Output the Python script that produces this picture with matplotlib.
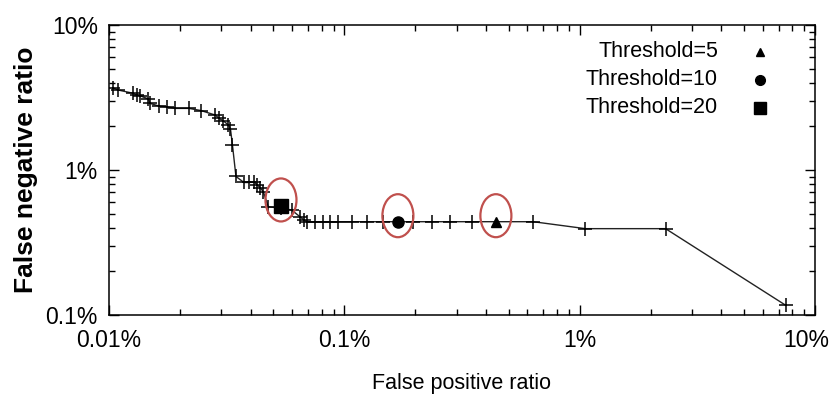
#!/usr/bin/env python3
"""False positive vs false negative ratio curve with threshold points -> out.png"""
import matplotlib
matplotlib.use("Agg")
import matplotlib.pyplot as plt
from matplotlib.patches import Ellipse
from matplotlib.ticker import FuncFormatter
from matplotlib.transforms import ScaledTranslation

plt.rcParams["font.family"] = ["Liberation Sans", "DejaVu Sans"]

# curve (values in percent)
fp_ratio = [0.0104, 0.01095, 0.01268, 0.01311, 0.01354, 0.01469, 0.01494, 0.01631,
            0.01758, 0.01907, 0.02186, 0.0246, 0.02834, 0.02934, 0.03065, 0.03218,
            0.03282, 0.03346, 0.03463, 0.03746, 0.03933, 0.0413, 0.04274, 0.04401,
            0.04532, 0.04749, 0.05379, 0.05972, 0.06477, 0.06736, 0.06916, 0.0750,
            0.0813, 0.0869, 0.0942, 0.1074, 0.1244, 0.1463, 0.1962, 0.2349, 0.2810,
            0.3474, 0.6344, 1.058, 2.317, 7.52]
fn_ratio = [3.68, 3.56, 3.38, 3.29, 3.25, 3.09, 2.88, 2.76,
            2.73, 2.66, 2.66, 2.57, 2.39, 2.27, 2.18, 2.04,
            1.92, 1.49, 0.902, 0.820, 0.820, 0.826, 0.788, 0.751,
            0.705, 0.558, 0.545, 0.530, 0.476, 0.452, 0.440, 0.440,
            0.440, 0.440, 0.440, 0.440, 0.440, 0.440, 0.440, 0.440, 0.440,
            0.440, 0.440, 0.394, 0.394, 0.1165]

# threshold operating points
thr_labels = ["Threshold=5", "Threshold=10", "Threshold=20"]
thr_markers = ["^", "o", "s"]
thr_fp = [0.4406, 0.1689, 0.0538]
thr_fn = [0.440, 0.440, 0.565]

x_ticks = [0.01, 0.1, 1, 10]
y_ticks = [0.1, 1, 10]

RED = "#C0504D"

fig = plt.figure(figsize=(8.38, 4.01), dpi=100)
ax = fig.add_axes([109 / 838, 86 / 401, 706 / 838, 290 / 401])

ax.plot(fp_ratio, fn_ratio, color="#222222", lw=1.0, marker="+", ms=9.5, mew=1.1, mec="black")

sizes = {"^": 7, "o": 8, "s": 10}
for fp, fn, m in zip(thr_fp, thr_fn, thr_markers):
    ax.plot([fp], [fn], marker=m, ms=sizes[m], color="black", ls="none", zorder=4)
    trans = fig.dpi_scale_trans + ScaledTranslation(fp, fn, ax.transData)
    ax.add_patch(Ellipse((0, 0.06), 0.31, 0.43, transform=trans, fill=False,
                         ec=RED, lw=1.6, zorder=5))

# legend drawn by hand: text right-aligned, marker to the right
for i, (lab, m) in enumerate(zip(thr_labels, thr_markers)):
    y = 0.907 - i * 0.0965
    ax.text(0.8626, y, lab, transform=ax.transAxes, ha="right", va="center", fontsize=15.5)
    ax.plot([0.922], [y], marker=m, ms=sizes[m] - 1, color="black", ls="none",
            transform=ax.transAxes)

ax.set_xscale("log")
ax.set_yscale("log")
ax.set_xlim(0.01, 10)
ax.set_ylim(0.1, 10)
ax.set_xticks(x_ticks)
ax.set_yticks(y_ticks)

pct = FuncFormatter(lambda v, p: f"{v:g}%")
ax.xaxis.set_major_formatter(pct)
ax.yaxis.set_major_formatter(pct)

ax.tick_params(which="both", direction="in", top=True, right=True, width=1.0, labelsize=16.5)
ax.tick_params(which="major", length=7)
ax.tick_params(which="minor", length=4)
ax.tick_params(axis="y", pad=8)
ax.tick_params(axis="x", pad=10)
for s in ax.spines.values():
    s.set_linewidth(1.1)

# last x label sits a little left so it stays inside the figure
last = ax.get_xticklabels()[-1]
last.set_transform(last.get_transform() + ScaledTranslation(-6 / 72, 0, fig.dpi_scale_trans))

ax.set_xlabel("False positive ratio", fontsize=15.5)
ax.xaxis.set_label_coords(0.5, -0.2)
ax.xaxis.label.set_va("top")
ax.set_ylabel("False negative ratio", fontsize=19, fontweight="bold")
ax.yaxis.set_label_coords(-0.1, 0.5)

fig.savefig("out.png", dpi=100, facecolor="white")
